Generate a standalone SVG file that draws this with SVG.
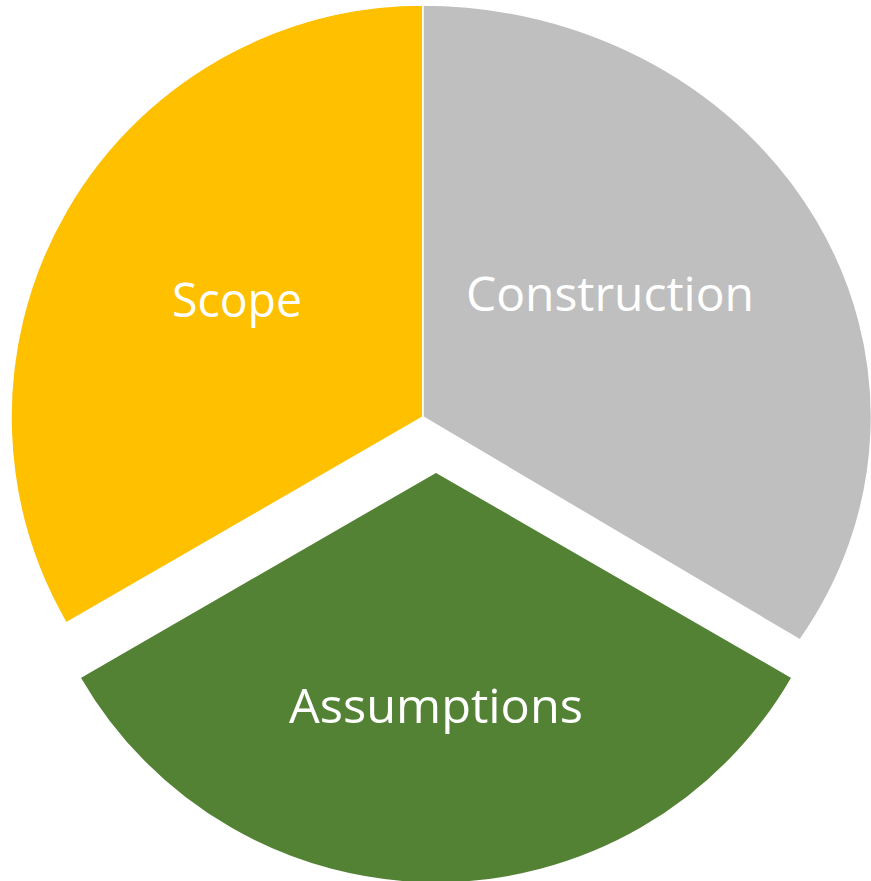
<svg xmlns="http://www.w3.org/2000/svg" width="871" height="881" viewBox="0 0 871 881">
  <style>
    .slice { stroke: #FFFFFF; stroke-width: 1.5; stroke-linejoin: miter; }
    .label { font-family: "Open Sans", "Noto Sans", "Liberation Sans", sans-serif; font-size: 48px; fill: #FFFFFF; text-anchor: middle; }
  </style>
  <rect x="0" y="0" width="871" height="881" fill="#FFFFFF"/>
  <g id="connectors"></g>
  <g id="scope">
    <path class="slice" fill="#FFC000" d="M 423,417 L 423,5 A 412 412 0 0 0 66.2,623 Z"/>
    <text class="label" x="237" y="317" textLength="130" lengthAdjust="spacingAndGlyphs">Scope</text>
  </g>
  <g id="construction">
    <path class="slice" fill="#BFBFBF" d="M 423,417 L 423,5 A 449 412 0 0 1 800,640 Z"/>
    <text class="label" x="610" y="311" textLength="288" lengthAdjust="spacingAndGlyphs">Construction</text>
  </g>
  <g id="assumptions">
    <path class="slice" fill="#548235" d="M 436,472 L 80,677.5 A 411 411 0 0 0 792,677.5 Z"/>
    <text class="label" x="436" y="723" textLength="294" lengthAdjust="spacingAndGlyphs">Assumptions</text>
  </g>
</svg>
